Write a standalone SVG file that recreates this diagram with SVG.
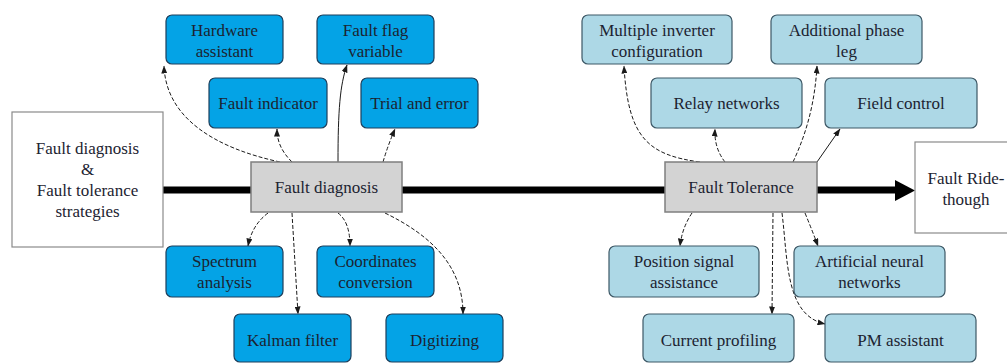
<svg xmlns="http://www.w3.org/2000/svg" width="1007" height="363" viewBox="0 0 1007 363" font-family="Liberation Serif, Tinos, DejaVu Serif, serif">
<style>
text{font-size:17px;fill:#1c2331;text-anchor:middle}
.b{fill:#04a3e6;stroke:#1d3f5c;stroke-width:1.2}
.lb{fill:#add8e6;stroke:#3d5866;stroke-width:1.2}
.g{fill:#d3d3d3;stroke:#7f7f7f;stroke-width:1.5}
.w{fill:#ffffff;stroke:#8a8a8a;stroke-width:1.2}
.c{fill:none;stroke:#1a1a1a;stroke-width:1;stroke-dasharray:4 2;marker-end:url(#ah)}
.s{fill:none;stroke:#1a1a1a;stroke-width:1;marker-end:url(#ah)}
</style>
<defs>
<marker id="ah" viewBox="0 0 8 6" refX="7.5" refY="3" markerWidth="8" markerHeight="6" markerUnits="userSpaceOnUse" orient="auto">
<path d="M0,0 L8,3 L0,6 z" fill="#1a1a1a"/>
</marker>
</defs>
<rect width="1007" height="363" fill="#ffffff"/>
<g id="connectors">
<path d="M163,190 L896,190" stroke="#000" stroke-width="7" fill="none"/>
<polygon points="895,180 915,190.5 895,201" fill="#000"/>
<path class="c" d="M280,162 C215,148 166,118 164,66"/>
<path class="c" d="M292,162 C282,152 277,142 277,129"/>
<path class="s" d="M338,162 C338,110 340,85 347,65"/>
<path class="c" d="M383,162 Q388,145 395,129"/>
<path class="c" d="M268,213 Q252,225 248,246"/>
<path class="c" d="M292,213 L298,314"/>
<path class="c" d="M338,213 Q350,222 350,246"/>
<path class="c" d="M385,213 C430,235 463,265 463,314"/>
<path class="c" d="M700,162 C648,155 628,138 624,66"/>
<path class="c" d="M725,162 Q714,148 715,129"/>
<path class="c" d="M793,162 C808,130 815,100 817,66"/>
<path class="s" d="M817,162 L840,129"/>
<path class="c" d="M692,213 Q682,228 680,246"/>
<path class="c" d="M773,213 L772,314"/>
<path class="c" d="M782,213 C788,260 785,315 825,324"/>
<path class="c" d="M805,213 Q812,230 818,246"/>
</g>
<g id="start">
<rect class="w" x="12" y="112" width="151" height="135"/>
<text x="87.5" y="154">Fault diagnosis</text>
<text x="87.5" y="175">&amp;</text>
<text x="87.5" y="196">Fault tolerance</text>
<text x="87.5" y="217">strategies</text>
</g>
<g id="end">
<rect class="w" x="915" y="142" width="100" height="91"/>
<text x="966" y="184">Fault Ride-</text>
<text x="966" y="205">though</text>
</g>
<g id="fault-diagnosis">
<rect class="g" x="251" y="162" width="151" height="50"/>
<text x="326.5" y="193">Fault diagnosis</text>
</g>
<g id="fault-tolerance">
<rect class="g" x="665" y="162" width="152" height="50"/>
<text x="741" y="193">Fault Tolerance</text>
</g>
<g id="hardware-assistant">
<rect class="b" x="166" y="15" width="117" height="49" rx="6"/>
<text x="224.5" y="36">Hardware</text>
<text x="224.5" y="57">assistant</text>
</g>
<g id="fault-flag">
<rect class="b" x="317" y="15" width="117" height="49" rx="6"/>
<text x="375.5" y="36">Fault flag</text>
<text x="375.5" y="57">variable</text>
</g>
<g id="fault-indicator">
<rect class="b" x="209" y="78" width="118" height="50" rx="6"/>
<text x="268" y="109">Fault indicator</text>
</g>
<g id="trial-error">
<rect class="b" x="361" y="78" width="117" height="50" rx="6"/>
<text x="419.5" y="109">Trial and error</text>
</g>
<g id="spectrum">
<rect class="b" x="166" y="246" width="117" height="51" rx="6"/>
<text x="224.5" y="267">Spectrum</text>
<text x="224.5" y="288">analysis</text>
</g>
<g id="coordinates">
<rect class="b" x="317" y="246" width="117" height="51" rx="6"/>
<text x="375.5" y="267">Coordinates</text>
<text x="375.5" y="288">conversion</text>
</g>
<g id="kalman">
<rect class="b" x="234" y="314" width="117" height="48" rx="6"/>
<text x="292.5" y="346">Kalman filter</text>
</g>
<g id="digitizing">
<rect class="b" x="386" y="314" width="117" height="48" rx="6"/>
<text x="444.5" y="346">Digitizing</text>
</g>
<g id="multiple-inverter">
<rect class="lb" x="582" y="15" width="150" height="49" rx="6"/>
<text x="657" y="36">Multiple inverter</text>
<text x="657" y="57">configuration</text>
</g>
<g id="additional-phase">
<rect class="lb" x="771" y="15" width="151" height="49" rx="6"/>
<text x="846.5" y="36">Additional phase</text>
<text x="846.5" y="57">leg</text>
</g>
<g id="relay">
<rect class="lb" x="651" y="78" width="151" height="50" rx="6"/>
<text x="726.5" y="109">Relay networks</text>
</g>
<g id="field-control">
<rect class="lb" x="825" y="78" width="152" height="50" rx="6"/>
<text x="901" y="109">Field control</text>
</g>
<g id="position-signal">
<rect class="lb" x="609" y="246" width="150" height="51" rx="6"/>
<text x="684" y="267">Position signal</text>
<text x="684" y="288">assistance</text>
</g>
<g id="ann">
<rect class="lb" x="794" y="246" width="151" height="51" rx="6"/>
<text x="869.5" y="267">Artificial neural</text>
<text x="869.5" y="288">networks</text>
</g>
<g id="current-profiling">
<rect class="lb" x="643" y="314" width="151" height="48" rx="6"/>
<text x="718.5" y="346">Current profiling</text>
</g>
<g id="pm-assistant">
<rect class="lb" x="825" y="314" width="151" height="48" rx="6"/>
<text x="900.5" y="346">PM assistant</text>
</g>
</svg>
